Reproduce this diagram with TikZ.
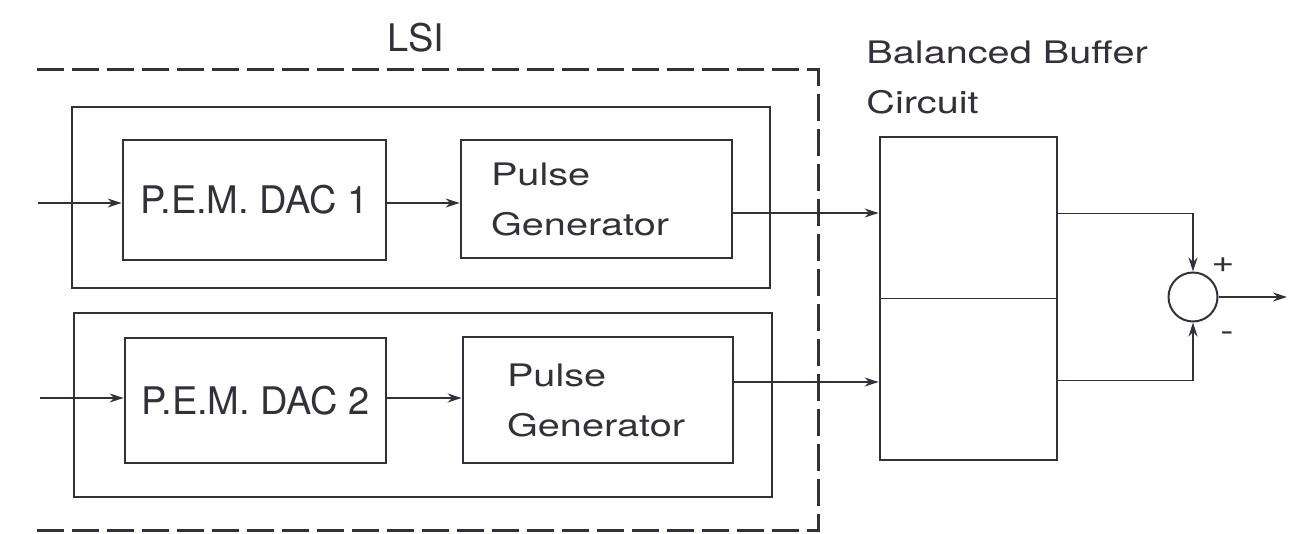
\documentclass[tikz,border=0pt]{standalone}
\usepackage{fontspec}
\setmainfont{TeX Gyre Heros}
\newfontfamily\widefont{TeX Gyre Heros}[FakeStretch=1.28]
\usepackage{xcolor}
\definecolor{inkgray}{RGB}{52, 48, 58}
\usetikzlibrary{arrows.meta, positioning, calc}

\begin{document}
\begin{tikzpicture}[x=0.5pt, y=-0.5pt, >={Stealth[length=7pt, width=4.5pt]},
    blockbox/.style={draw=inkgray, line width=1.4pt, inner sep=0pt},
    channelbox/.style={draw=inkgray, line width=1pt, inner sep=0pt},
    dactext/.style={font=\fontsize{19}{22}\selectfont, text=inkgray},
    widetext/.style={font=\widefont\fontsize{15.5}{25}\selectfont, text=inkgray, align=left},
    wire/.style={draw=inkgray, line width=0.9pt}]
    \useasboundingbox (0,0) rectangle (1294,534);

    % LSI frame
    \draw[inkgray, line width=1.5pt, dash pattern=on 13.5pt off 4pt] (37,70) -- (818,70) -- (818,530) -- (35,530);
    \node[dactext] (lsi) at (416,38) {LSI};

    % two channels
    \node[channelbox, minimum width=349pt, minimum height=90.5pt] (chan1) at (421,197.5) {};
    \node[channelbox, minimum width=349pt, minimum height=92pt] (chan2) at (423,405) {};
    \node[blockbox, dactext, minimum width=131.5pt, minimum height=60pt] (dac1) at (254.5,200) {P.E.M. DAC 1};
    \node[blockbox, dactext, minimum width=130.5pt, minimum height=62.5pt] (dac2) at (255.5,400.5) {P.E.M. DAC 2};
    \node[blockbox, widetext, inner xsep=15pt, text width=105.5pt, minimum height=59pt] (pg1) at (596.5,199) {Pulse\\Generator};
    \node[blockbox, widetext, inner xsep=22pt, text width=91pt, minimum height=63pt] (pg2) at (598,400) {Pulse\\Generator};

    % buffer and summing point
    \node[blockbox, minimum width=88.5pt, minimum height=161.5pt] (buf) at (968.5,298.5) {};
    \node[widetext, anchor=north west, inner sep=0pt] (buftitle) at (866,40) {Balanced Buffer\\Circuit};
    \node[circle, draw=inkgray, line width=1pt, minimum size=24.5pt, inner sep=0pt] (sum) at (1193,297) {};
    \node[widetext] (plus) at (1223,265) {+};
    \node[widetext] (minus) at (1227,337) {-};

    \coordinate (in1) at (38,203);
    \coordinate (in2) at (40,398);
    \coordinate (pg1out) at ($(pg1.east)+(0,14)$);
    \coordinate (pg2out) at ($(pg2.east)+(0,-18)$);
    \coordinate (bufup) at ($(buf.east)+(0,-85)$);
    \coordinate (buflo) at ($(buf.east)+(0,82)$);
    \coordinate (out) at (1287,297);

    \draw[wire] (buf.west) -- (buf.east);
    \draw[wire, ->] (in1) -- (in1 -| dac1.west);
    \draw[wire, ->] (in2) -- (in2 -| dac2.west);
    \draw[wire, ->] (dac1.east |- in1) -- (pg1.west |- in1);
    \draw[wire, ->] (dac2.east |- in2) -- (pg2.west |- in2);
    \draw[wire, ->] (pg1out) -- (pg1out -| buf.west);
    \draw[wire, ->] (pg2out) -- (pg2out -| buf.west);
    \draw[wire, ->] (bufup) -| (sum.north);
    \draw[wire, ->] (buflo) -| (sum.south);
    \draw[wire, ->] (sum.east) -- (out);
\end{tikzpicture}
\end{document}
